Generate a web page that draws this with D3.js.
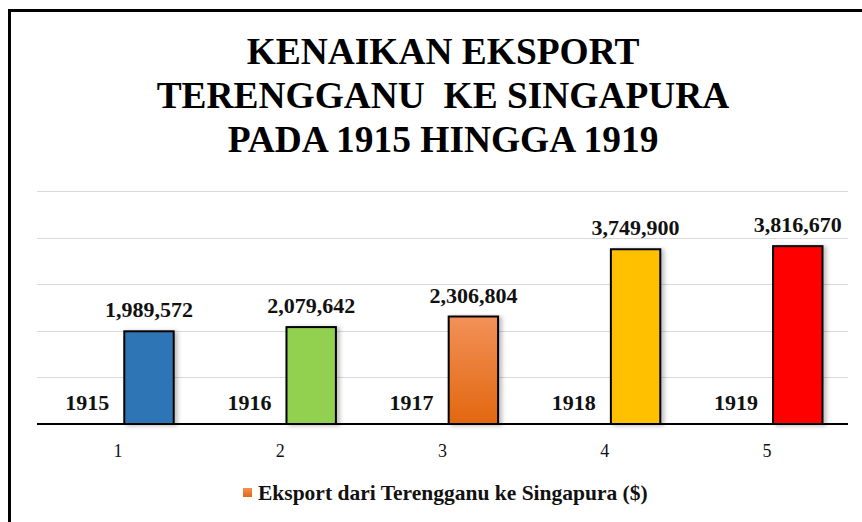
<!DOCTYPE html>
<html>
<head>
<meta charset="utf-8">
<script src="https://cdn.jsdelivr.net/npm/d3@7"></script>
<style>
  body { margin: 0; background: #fff; }
  svg { display: block; font-family: "Liberation Serif", "Times New Roman", serif; }
</style>
</head>
<body>
<div id="chart"></div>
<script>
const categories = ["1", "2", "3", "4", "5"];
const years = [1915, 1916, 1917, 1918, 1919];
const exports = [1989572, 2079642, 2306804, 3749900, 3816670];
const barColors = ["#2E75B6", "#92D050", "url(#orangeGrad)", "#FFC000", "#FF0000"];
const yTicks = [0, 1000000, 2000000, 3000000, 4000000, 5000000];
const titleLines = ["KENAIKAN EKSPORT", "TERENGGANU  KE SINGAPURA", "PADA 1915 HINGGA 1919"];
const legendLabel = "Eksport dari Terengganu ke Singapura ($)";

const W = 862, H = 522;
const plot = { left: 37, right: 848, top: 191, bottom: 424 };

const svg = d3.select("#chart").append("svg")
    .attr("width", W)
    .attr("height", H);

const defs = svg.append("defs");
const grad = defs.append("linearGradient")
    .attr("id", "orangeGrad")
    .attr("x1", "0%").attr("y1", "0%")
    .attr("x2", "0%").attr("y2", "100%");
grad.append("stop").attr("offset", "0%").attr("stop-color", "#F29158");
grad.append("stop").attr("offset", "100%").attr("stop-color", "#E2670F");

const shadow = defs.append("filter").attr("id", "shadow")
    .attr("x", "-20%").attr("y", "-10%").attr("width", "150%").attr("height", "130%");
shadow.append("feDropShadow")
    .attr("dx", 3).attr("dy", 1).attr("stdDeviation", 2)
    .attr("flood-color", "#000").attr("flood-opacity", 0.25);

// outer frame (top and left edges visible)
svg.append("path")
    .attr("d", `M9.5,${H} V10.5 H${W}`)
    .attr("fill", "none")
    .attr("stroke", "#000")
    .attr("stroke-width", 3);

// title
const title = svg.append("text")
    .attr("text-anchor", "middle")
    .style("font-weight", "bold")
    .style("font-size", "38px")
    .attr("transform", "translate(443,0) scale(0.985,1)");
titleLines.forEach((t, i) => {
    title.append("tspan")
        .attr("x", 0)
        .attr("y", 64 + i * 44)
        .style("white-space", "pre")
        .text(t);
});

const x = d3.scaleBand()
    .domain(categories)
    .range([plot.left, plot.right]);

const x1 = d3.scaleBand()
    .domain(["year", "export"])
    .range([25.5, x.bandwidth() - 25.5])
    .paddingInner(0.2);

const y = d3.scaleLinear()
    .domain([0, 5000000])
    .range([plot.bottom, plot.top]);

// gridlines
svg.append("g")
    .selectAll("line")
    .data(yTicks.slice(1))
    .join("line")
    .attr("x1", plot.left)
    .attr("x2", plot.right)
    .attr("y1", d => Math.round(y(d)) + 0.5)
    .attr("y2", d => Math.round(y(d)) + 0.5)
    .attr("stroke", "#d9d9d9")
    .attr("stroke-width", 1);

// bars
svg.append("g")
    .selectAll("rect")
    .data(exports)
    .join("rect")
    .attr("x", (d, i) => x(categories[i]) + x1("export"))
    .attr("y", d => y(d))
    .attr("width", x1.bandwidth())
    .attr("height", d => y(0) - y(d))
    .attr("fill", (d, i) => barColors[i])
    .attr("stroke", "#000")
    .attr("stroke-width", 2)
    .attr("filter", "url(#shadow)");

// baseline axis
const xAxis = svg.append("g")
    .attr("transform", `translate(0,${plot.bottom})`)
    .call(d3.axisBottom(x).tickSize(0).tickPadding(20));
xAxis.select(".domain").attr("stroke", "#000").attr("stroke-width", 2)
    .attr("d", `M${plot.left},0H${plot.right}`);
xAxis.selectAll("text")
    .style("font-family", "\"Liberation Serif\", serif")
    .style("font-size", "18px")
    .attr("fill", "#111");

// value labels
svg.append("g")
    .selectAll("text")
    .data(exports)
    .join("text")
    .attr("x", (d, i) => x(categories[i]) + x1("export") + x1.bandwidth() / 2)
    .attr("y", d => y(d) - 14)
    .attr("text-anchor", "middle")
    .style("font-weight", "bold")
    .style("font-size", "22px")
    .attr("fill", "#111")
    .text(d => d3.format(",")(d));

// year labels (series with near-zero height)
svg.append("g")
    .selectAll("text")
    .data(years)
    .join("text")
    .attr("x", (d, i) => x(categories[i]) + x1("year") + x1.bandwidth() / 2)
    .attr("y", d => y(d) - 14)
    .attr("text-anchor", "middle")
    .style("font-weight", "bold")
    .style("font-size", "22px")
    .attr("fill", "#111")
    .text(d => d);

// legend
const legend = svg.append("g").attr("transform", "translate(243,488)");
legend.append("rect")
    .attr("width", 9)
    .attr("height", 9)
    .attr("fill", "url(#orangeGrad)");
legend.append("text")
    .attr("x", 15)
    .attr("y", 12)
    .style("font-weight", "bold")
    .style("font-size", "21.5px")
    .attr("fill", "#111")
    .text(legendLabel);
</script>
</body>
</html>
